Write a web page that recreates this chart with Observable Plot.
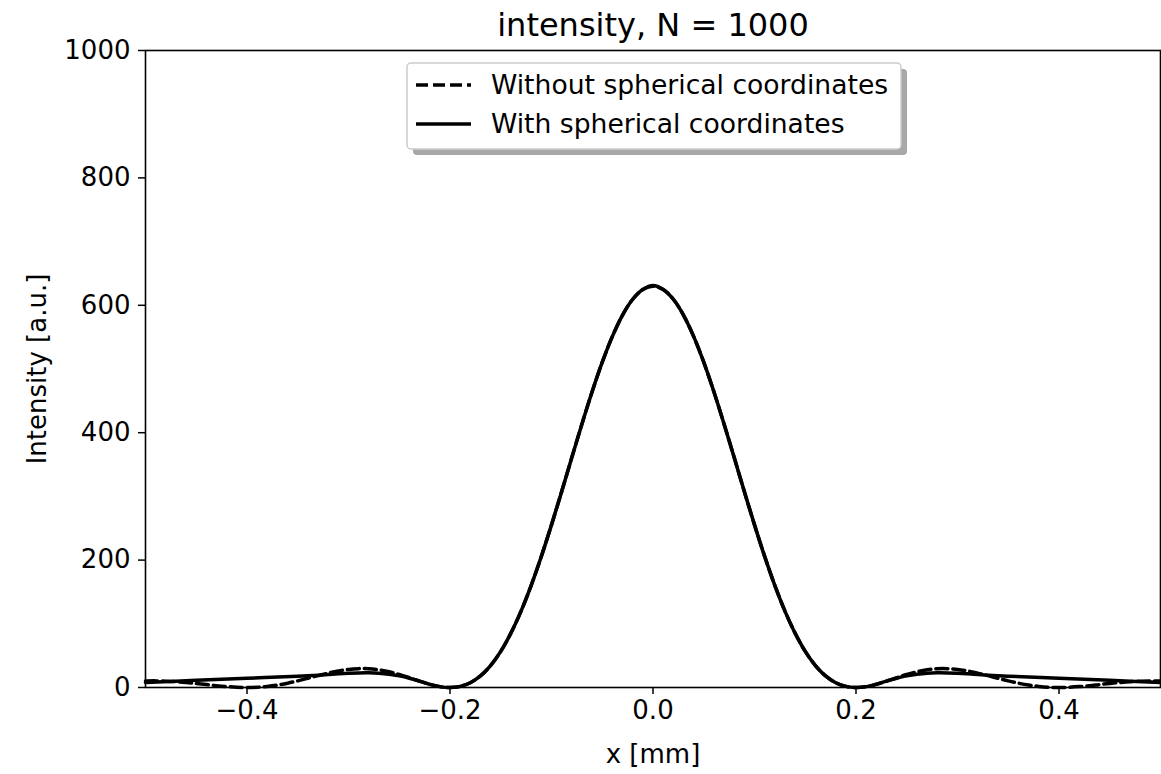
<!DOCTYPE html>
<html>
<head>
<meta charset="utf-8">
<script src="https://cdn.jsdelivr.net/npm/d3@7"></script>
<script src="https://cdn.jsdelivr.net/npm/@observablehq/plot@0.6"></script>
<style>
  html, body { margin: 0; padding: 0; background: #fff; }
  #chart { width: 1161px; height: 774px; }
</style>
</head>
<body>
<div id="chart"></div>
<script>
const title = "intensity, N = 1000";
const xLabel = "x [mm]";
const yLabel = "Intensity [a.u.]";
const seriesNames = ["Without spherical coordinates", "With spherical coordinates"];
const xTicks = [-0.4, -0.2, 0.0, 0.2, 0.4];
const yTicks = [0, 200, 400, 600, 800, 1000];

// Without spherical coordinates (dashed)
const xWithout = [
  -0.50,-0.49,-0.48,-0.47,-0.46,-0.45,-0.44,-0.43,-0.42,-0.41,
  -0.40,-0.39,-0.38,-0.37,-0.36,-0.35,-0.34,-0.33,-0.32,-0.31,
  -0.30,-0.29,-0.28,-0.27,-0.26,-0.25,-0.24,-0.23,-0.22,-0.21,
  -0.20,-0.19,-0.18,-0.17,-0.16,-0.15,-0.14,-0.13,-0.12,-0.11,
  -0.10,-0.09,-0.08,-0.07,-0.06,-0.05,-0.04,-0.03,-0.02,-0.01,
   0.00,
   0.01, 0.02, 0.03, 0.04, 0.05, 0.06, 0.07, 0.08, 0.09, 0.10,
   0.11, 0.12, 0.13, 0.14, 0.15, 0.16, 0.17, 0.18, 0.19, 0.20,
   0.21, 0.22, 0.23, 0.24, 0.25, 0.26, 0.27, 0.28, 0.29, 0.30,
   0.31, 0.32, 0.33, 0.34, 0.35, 0.36, 0.37, 0.38, 0.39, 0.40,
   0.41, 0.42, 0.43, 0.44, 0.45, 0.46, 0.47, 0.48, 0.49, 0.50
];
const yWithout = [
  10.2,10.4,10.0,9.2,7.9,6.3,4.6,2.8,1.4,0.4,
  0.0,0.4,1.7,3.8,6.8,10.4,14.5,18.6,22.6,25.9,
  28.4,29.6,29.5,27.8,24.7,20.4,15.3,9.9,5.0,1.4,
  0.0,1.7,7.5,18.2,34.5,56.7,85.3,119.9,160.4,205.9,
  255.3,307.5,360.9,413.7,464.2,510.7,551.3,584.7,609.5,624.8,
  630.0,
  624.8,609.5,584.7,551.3,510.7,464.2,413.7,360.9,307.5,255.3,
  205.9,160.4,119.9,85.3,56.7,34.5,18.2,7.5,1.7,0.0,
  1.4,5.0,9.9,15.3,20.4,24.7,27.8,29.5,29.6,28.4,
  25.9,22.6,18.6,14.5,10.4,6.8,3.8,1.7,0.4,0.0,
  0.4,1.4,2.8,4.6,6.3,7.9,9.2,10.0,10.4,10.2
];

// With spherical coordinates (solid)
const xWith = [
  -0.50,-0.45,-0.40,-0.35,-0.33,-0.32,-0.31,-0.30,-0.29,-0.28,
  -0.27,-0.26,-0.25,-0.24,-0.23,-0.22,-0.21,
  -0.20,-0.19,-0.18,-0.17,-0.16,-0.15,-0.14,-0.13,-0.12,-0.11,
  -0.10,-0.09,-0.08,-0.07,-0.06,-0.05,-0.04,-0.03,-0.02,-0.01,
   0.00,
   0.01, 0.02, 0.03, 0.04, 0.05, 0.06, 0.07, 0.08, 0.09, 0.10,
   0.11, 0.12, 0.13, 0.14, 0.15, 0.16, 0.17, 0.18, 0.19, 0.20,
   0.21, 0.22, 0.23, 0.24, 0.25, 0.26, 0.27, 0.28, 0.29, 0.30,
   0.31, 0.32, 0.33, 0.35, 0.40, 0.45, 0.50
];
const yWith = [
  8.0,11.3,14.5,17.8,19.4,20.5,21.6,22.4,22.9,23.0,
  22.4,20.8,18.2,14.6,10.0,5.0,1.4,
  0.0,1.7,7.5,18.2,34.5,56.7,85.3,119.9,160.4,205.9,
  255.3,307.5,360.9,413.7,464.2,510.7,551.3,584.7,609.5,624.8,
  631.0,
  624.8,609.5,584.7,551.3,510.7,464.2,413.7,360.9,307.5,255.3,
  205.9,160.4,119.9,85.3,56.7,34.5,18.2,7.5,1.7,0.0,
  1.4,5.0,10.0,14.6,18.2,20.8,22.4,23.0,22.9,22.4,
  21.6,20.5,19.4,17.8,14.5,11.3,8.0
];

const dataWithout = xWithout.map((x, i) => ({x, y: yWithout[i]}));
const dataWith = xWith.map((x, i) => ({x, y: yWith[i]}));

const FONT = "DejaVu Sans, sans-serif";
const FS = 26;
const fmtX = d3.format(".1f");
const fmtY = d3.format("d");

const plot = Plot.plot({
  width: 1161,
  height: 774,
  marginLeft: 145,
  marginRight: 1,
  marginTop: 50,
  marginBottom: 87,
  style: {fontFamily: FONT, fontSize: FS + "px", color: "black", background: "white", overflow: "visible"},
  x: {domain: [-0.5, 0.5]},
  y: {domain: [0, 1000]},
  marks: [
    Plot.line(dataWithout, {x: "x", y: "y", stroke: "black", strokeWidth: 3.5, strokeDasharray: "12,5", curve: "catmull-rom"}),
    Plot.line(dataWith, {x: "x", y: "y", stroke: "black", strokeWidth: 3.5, curve: "catmull-rom"}),
    Plot.axisX({ticks: xTicks, tickFormat: fmtX, tickSize: 7, tickPadding: 6, strokeWidth: 1.5, label: null, fontSize: FS}),
    Plot.axisY({ticks: yTicks, tickFormat: fmtY, tickSize: 7, tickPadding: 8, strokeWidth: 1.5, label: null, fontSize: FS}),
    Plot.frame({stroke: "black", strokeWidth: 1.6}),
    Plot.text([xLabel], {frameAnchor: "bottom", dy: 75, text: d => d, fontSize: FS, fill: "black"}),
    Plot.text([yLabel], {frameAnchor: "left", dx: -108, rotate: -90, textAnchor: "middle", text: d => d, fontSize: FS, fill: "black"}),
    Plot.text([title], {frameAnchor: "top", dy: -37, text: d => d, fontSize: 32, fill: "black"})
  ]
});

document.getElementById("chart").appendChild(plot);

// Legend (upper center)
const svg = d3.select(plot);
const LFS = 26.6;
const lg = svg.append("g").attr("font-family", FONT).attr("font-size", LFS).attr("text-anchor", "start");
const bx = 407, by = 63, bw = 494, bh = 86;
lg.append("rect").attr("x", bx + 6).attr("y", by + 6).attr("width", bw).attr("height", bh)
  .attr("rx", 4).attr("fill", "#a8a8a8");
lg.append("rect").attr("x", bx).attr("y", by).attr("width", bw).attr("height", bh)
  .attr("rx", 4).attr("fill", "white").attr("stroke", "#cccccc").attr("stroke-width", 1.5);
const rows = [
  {name: seriesNames[0], dash: "12,5", y: by + 22},
  {name: seriesNames[1], dash: null, y: by + 61}
];
rows.forEach(r => {
  lg.append("line").attr("x1", bx + 9).attr("x2", bx + 64).attr("y1", r.y).attr("y2", r.y)
    .attr("stroke", "black").attr("stroke-width", 3.5).attr("stroke-dasharray", r.dash);
  lg.append("text").attr("x", bx + 84).attr("y", r.y).attr("dy", "0.35em").attr("fill", "black")
    .attr("text-anchor", "start").text(r.name);
});
</script>
</body>
</html>
